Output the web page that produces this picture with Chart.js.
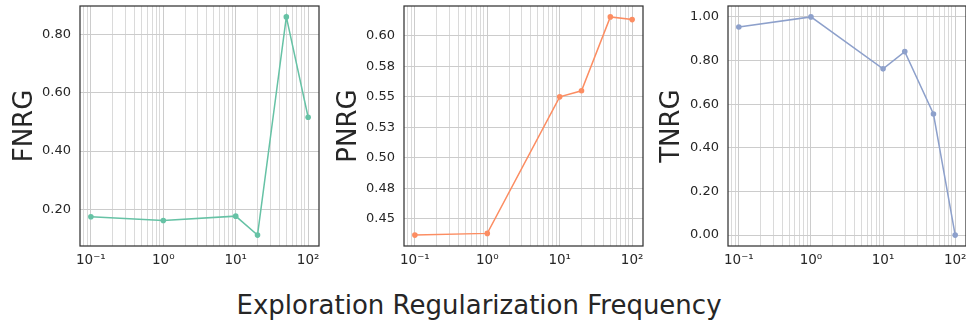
<!DOCTYPE html>
<html><head><meta charset="utf-8">
<script src="https://cdn.jsdelivr.net/npm/chart.js@4.4.0/dist/chart.umd.min.js"></script>
<style>
html,body{margin:0;padding:0;background:#fff;width:966px;height:322px;overflow:hidden;position:relative;}
canvas{position:absolute;top:0;}
#xl{position:absolute;left:0;width:958px;top:292px;text-align:center;font-family:'DejaVu Sans';font-size:26px;line-height:26px;color:#262626;white-space:nowrap;}
</style></head><body>
<canvas id="c1" width="330" height="276" style="left:0px"></canvas>
<canvas id="c2" width="320" height="276" style="left:330px"></canvas>
<canvas id="c3" width="320" height="276" style="left:650px"></canvas>
<div id="xl">Exploration Regularization Frequency</div>
<script>
// ---- data ----
const xValues = [0.1, 1, 10, 20, 50, 100];
const fnrg = [0.175, 0.162, 0.177, 0.112, 0.860, 0.516];
const pnrg = [0.4366, 0.438, 0.550, 0.555, 0.6156, 0.6134];
const tnrg = [0.954, 1.000, 0.762, 0.841, 0.555, 0.000];

const xMajorTicks = [0.1, 1, 10, 100];
const xTickLabels = ['10\u207B\u00B9', '10\u2070', '10\u00B9', '10\u00B2'];

const fnrgTicks = [0.2, 0.4, 0.6, 0.8];
const fnrgTickLabels = ['0.20', '0.40', '0.60', '0.80'];
const pnrgTicks = [0.45, 0.475, 0.5, 0.525, 0.55, 0.575, 0.6];
const pnrgTickLabels = ['0.45', '0.48', '0.50', '0.53', '0.55', '0.58', '0.60'];
const tnrgTicks = [0, 0.2, 0.4, 0.6, 0.8, 1.0];
const tnrgTickLabels = ['0.00', '0.20', '0.40', '0.60', '0.80', '1.00'];

const colors = ['#66c2a5', '#fc8d62', '#8da0cb'];
const FONT = 'DejaVu Sans';
const TXT = '#262626';

// x range: matplotlib-style 5% margins in log space
const lmin = Math.log10(Math.min(...xValues)), lmax = Math.log10(Math.max(...xValues));
const lpad = (lmax - lmin) * 0.05;
const xMin = Math.pow(10, lmin - lpad), xMax = Math.pow(10, lmax + lpad);

// all log grid positions (major + minor) inside the range
const xGridTicks = [];
for (let e = -2; e <= 2; e++) {
  for (let m = 1; m <= 9; m++) {
    const v = m * Math.pow(10, e);
    if (v >= xMin && v <= xMax) xGridTicks.push(v);
  }
}
function isMajor(v) { return xMajorTicks.some(t => Math.abs(v - t) / t < 1e-6); }

function yRange(vals) {
  const mn = Math.min(...vals), mx = Math.max(...vals), p = (mx - mn) * 0.05;
  return [mn - p, mx + p];
}

const framePlugin = {
  id: 'frame',
  afterDraw(chart) {
    const { ctx, chartArea: a } = chart;
    ctx.save();
    ctx.strokeStyle = '#333333';
    ctx.lineWidth = 1.25;
    ctx.strokeRect(a.left, a.top, a.right - a.left, a.bottom - a.top);
    ctx.restore();
  }
};

function makeChart(id, values, color, label, yTicks, yLabels, yAxisW, rightPad, titlePad) {
  const [yMin, yMax] = yRange(values);
  return new Chart(document.getElementById(id), {
    type: 'line',
    data: {
      datasets: [{
        data: xValues.map((x, i) => ({ x: x, y: values[i] })),
        borderColor: color,
        backgroundColor: color,
        borderWidth: 1.5,
        pointRadius: 2.8,
        pointBorderWidth: 0,
        pointBackgroundColor: color,
        tension: 0,
        fill: false
      }]
    },
    options: {
      responsive: false,
      animation: false,
      devicePixelRatio: 1,
      layout: { padding: { top: 6, right: rightPad, left: 0, bottom: 0 } },
      plugins: { legend: { display: false }, tooltip: { enabled: false } },
      scales: {
        x: {
          type: 'logarithmic',
          min: xMin, max: xMax,
          afterBuildTicks: s => { s.ticks = xGridTicks.map(v => ({ value: v })); },
          ticks: {
            autoSkip: false, maxRotation: 0, minRotation: 0,
            callback: (v) => { const i = xMajorTicks.findIndex(t => Math.abs(v - t) / t < 1e-6); return i >= 0 ? xTickLabels[i] : ''; },
            font: { family: FONT, size: 13.5 }, color: TXT, padding: 6
          },
          grid: {
            drawTicks: false,
            color: c => (c.tick && isMajor(c.tick.value)) ? '#cccccc' : '#dadada',
            lineWidth: 1
          },
          border: { display: false },
          afterFit: s => { s.height = 30; s.paddingLeft = 0; s.paddingRight = 0; }
        },
        y: {
          type: 'linear',
          min: yMin, max: yMax,
          afterBuildTicks: s => { s.ticks = yTicks.map(v => ({ value: v })); },
          ticks: {
            autoSkip: false,
            callback: (v) => { const i = yTicks.findIndex(t => Math.abs(v - t) < 1e-9); return i >= 0 ? yLabels[i] : ''; },
            font: { family: FONT, size: 13 }, color: TXT, padding: 9
          },
          grid: { drawTicks: false, color: '#cccccc', lineWidth: 1 },
          border: { display: false },
          title: {
            display: true, text: label, color: TXT,
            font: { family: FONT, size: 26, lineHeight: 1 },
            padding: { top: titlePad, bottom: 0 }
          },
          afterFit: s => { s.width = yAxisW; s.paddingTop = 0; s.paddingBottom = 0; }
        }
      }
    },
    plugins: [framePlugin]
  });
}

makeChart('c1', fnrg, colors[0], 'FNRG', fnrgTicks, fnrgTickLabels, 80, 11, 12);
makeChart('c2', pnrg, colors[1], 'PNRG', pnrgTicks, pnrgTickLabels, 74, 7, 6.5);
makeChart('c3', tnrg, colors[2], 'TNRG', tnrgTicks, tnrgTickLabels, 78, 4, 9);
</script>
</body></html>
